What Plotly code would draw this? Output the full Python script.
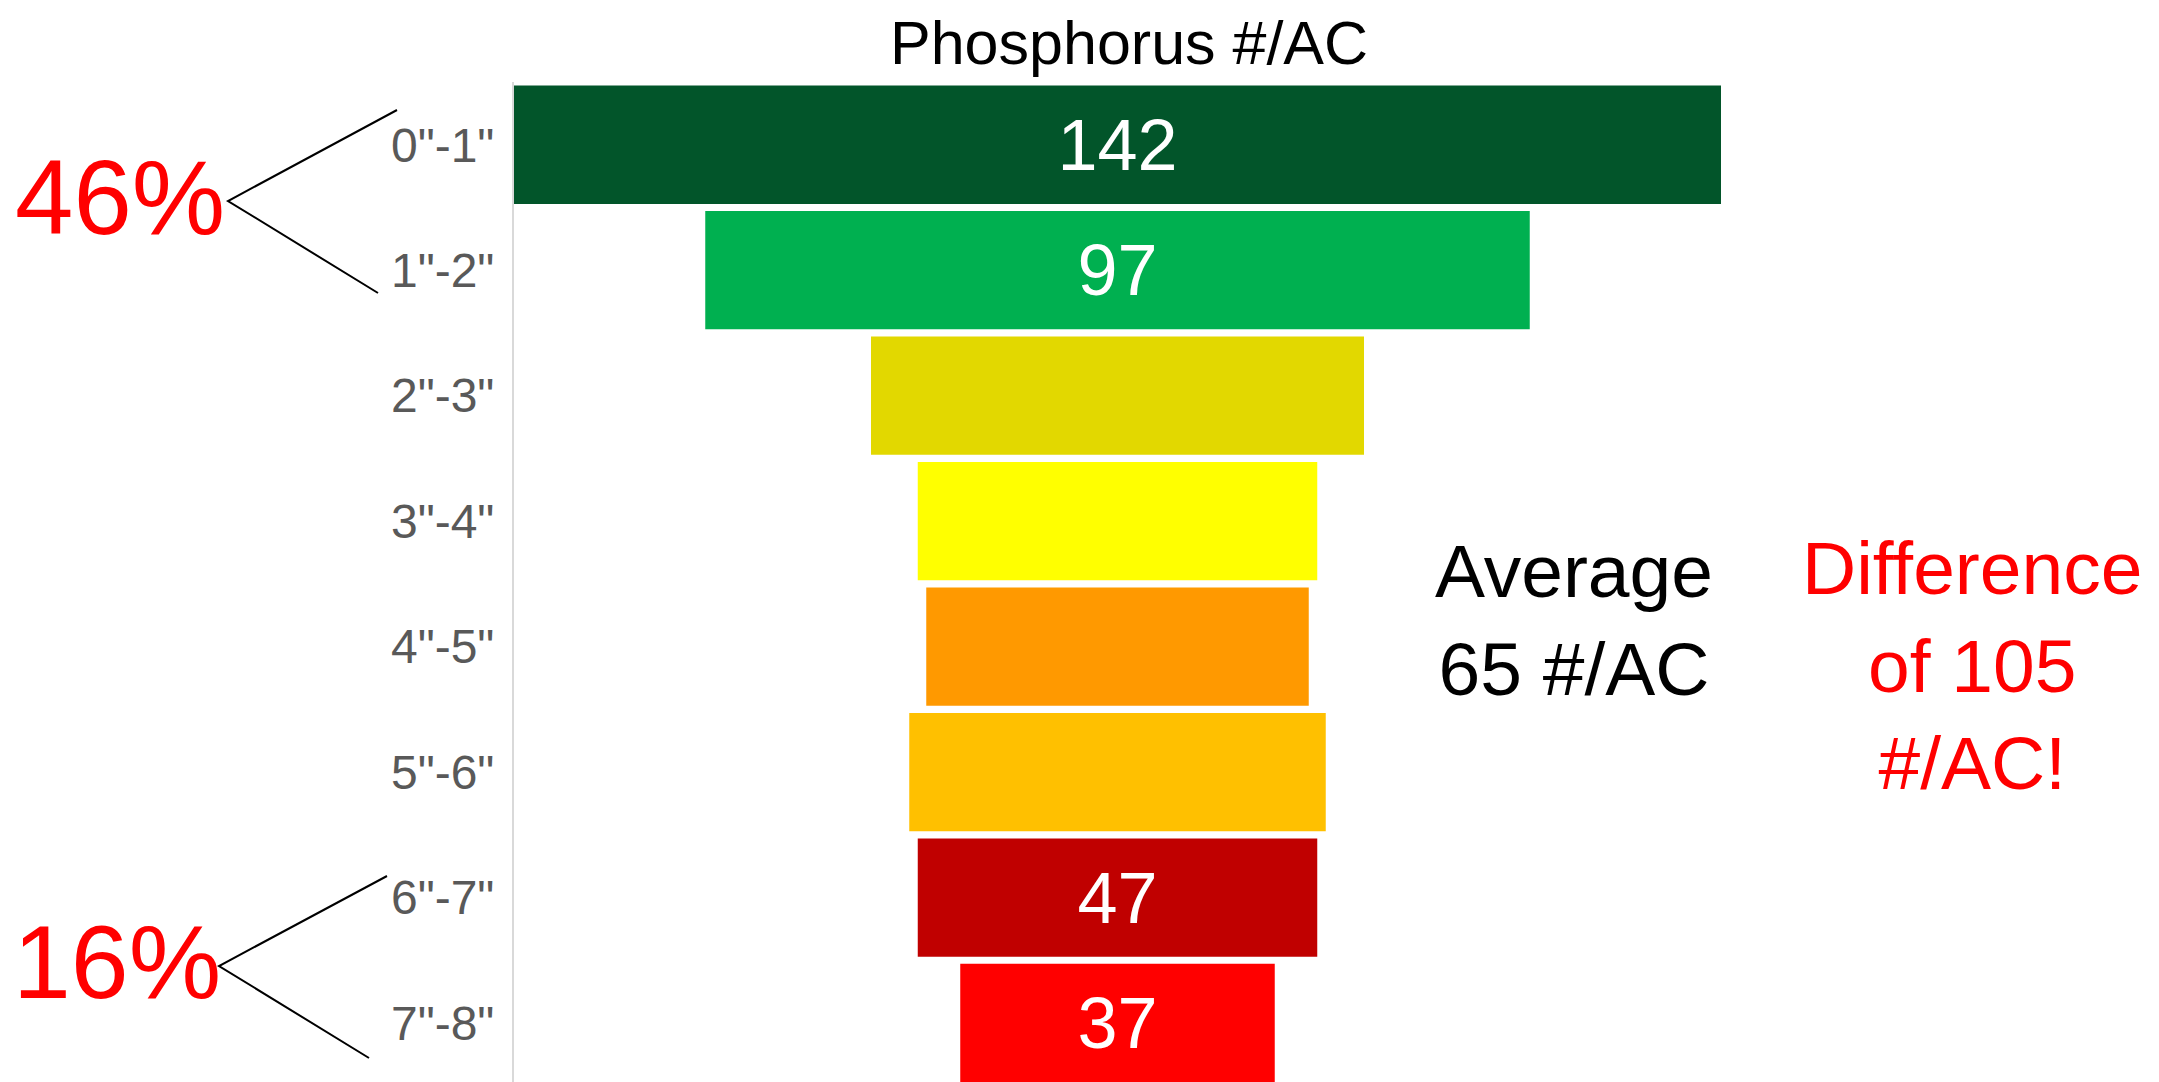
import plotly.graph_objects as go

# ---- data ----
depths = ['0"-1"', '1"-2"', '2"-3"', '3"-4"', '4"-5"', '5"-6"', '6"-7"', '7"-8"']
phosphorus = [142, 97, 58, 47, 45, 49, 47, 37]
shown_labels = [True, True, False, False, False, False, True, True]
bar_colors = ["#02552A", "#00B050", "#E2D800", "#FFFF00",
              "#FF9900", "#FFC000", "#C00000", "#FF0000"]
title_text = "Phosphorus #/AC"
average_text = "Average<br>65 #/AC"
difference_text = "Difference<br>of 105<br>#/AC!"
top_share_text = "46%"
bottom_share_text = "16%"

# page geometry (browser body margin of 8px is compensated)
OFF = 8
PAGE_W, PAGE_H = 2159, 1082
W, H = PAGE_W - 2 * OFF, PAGE_H - OFF
PLOT_L, PLOT_R, PLOT_T, PLOT_B = 514, 1721, 82, 1082   # page pixels
ML, MT = PLOT_L - OFF, PLOT_T - OFF
MR = W - (PLOT_R - OFF)
MB = H - (PLOT_B - OFF)
PW, PH = PLOT_R - PLOT_L, PLOT_B - PLOT_T
FONT = "Liberation Sans, Arial, sans-serif"


def px(x):
    return (x - PLOT_L) / PW


def py(y):
    return (PLOT_B - y) / PH


labels = [str(v) if s else "" for v, s in zip(phosphorus, shown_labels)]
vmax = max(phosphorus)

fig = go.Figure(go.Funnel(
    y=depths,
    x=phosphorus,
    text=labels,
    textinfo="text",
    textposition="inside",
    insidetextanchor="middle",
    textfont=dict(family=FONT, size=72, color="white"),
    marker=dict(color=bar_colors, line=dict(width=0)),
    connector=dict(visible=False),
    hoverinfo="x+y",
))

annotations = [
    dict(text=title_text, x=px(1129), y=py(43), font=dict(size=61, color="black")),
    dict(text=average_text, x=px(1574), y=py(620), font=dict(size=75, color="black")),
    dict(text=difference_text, x=px(1972), y=py(665), font=dict(size=75, color="#FF0000")),
    dict(text=top_share_text, x=px(120), y=py(197), font=dict(size=105, color="#FF0000")),
    dict(text=bottom_share_text, x=px(117), y=py(962), font=dict(size=104, color="#FF0000")),
]
for a in annotations:
    a.update(xref="paper", yref="paper", showarrow=False,
             xanchor="center", yanchor="middle", borderpad=0)
    a["font"]["family"] = FONT

brackets = [((397, 110), (228, 201), (378, 293)),
            ((387, 876), (219, 966), (369, 1058))]
shapes = []
for (x0, y0), (x1, y1), (x2, y2) in brackets:
    path = (f"M {px(x0)} {py(y0)} L {px(x1)} {py(y1)} L {px(x2)} {py(y2)}")
    shapes.append(dict(type="path", path=path, xref="paper", yref="paper",
                       line=dict(color="black", width=2)))

fig.update_layout(
    width=W, height=H,
    margin=dict(l=ML, r=MR, t=MT, b=MB, pad=0),
    paper_bgcolor="white", plot_bgcolor="white",
    showlegend=False,
    funnelgap=0.057,
    annotations=annotations,
    shapes=shapes,
    font=dict(family=FONT),
)
fig.update_xaxes(range=[-vmax / 2, vmax / 2], visible=False, fixedrange=True)
fig.update_yaxes(
    range=[len(depths) - 0.53, -0.5],
    autorange=False,
    showline=True, linecolor="#D9D9D9", linewidth=2,
    showgrid=False, zeroline=False, ticks="",
    tickfont=dict(family=FONT, size=48, color="#595959"),
    ticklabelstandoff=8,
)

fig.write_html("out.html")
